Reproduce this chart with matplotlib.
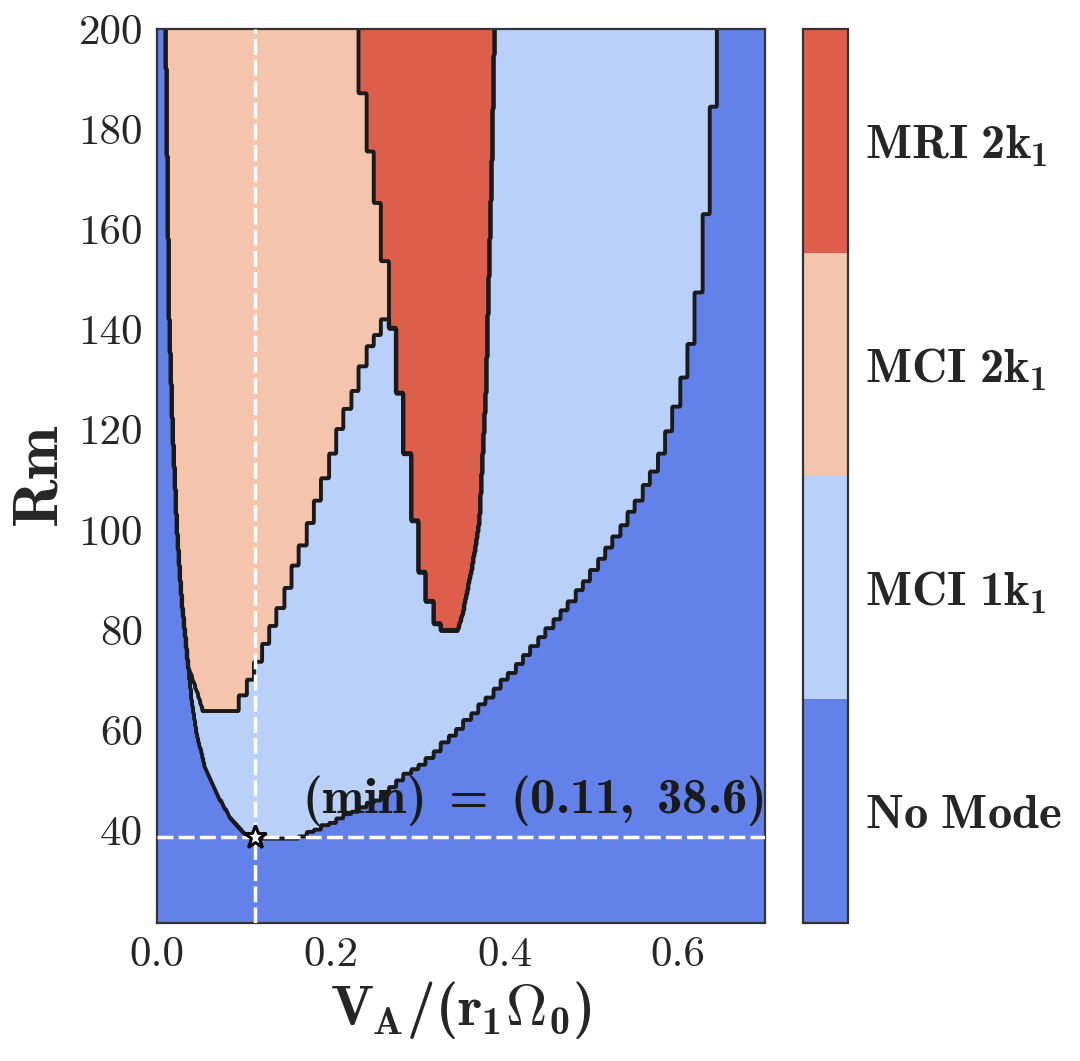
import numpy as np
import matplotlib
matplotlib.use("Agg")
import matplotlib.pyplot as plt

# ---------------- data ----------------
# parameter grid
va_grid = np.linspace(0.0, 0.7, 600)
rm_grid = np.linspace(21.5, 200.0, 400)

categories = ["No Mode", r"MCI 1k_1", r"MCI 2k_1", r"MRI 2k_1"]

# outer boundary (No Mode | any mode): left branch (Rm, V_A)
outer_left_rm = [38.5, 39.5, 42.5, 47.3, 52.5, 59.3, 65.9, 72.5, 79.3, 85.9, 100.0, 120.0, 142.0, 170.0, 200.0]
outer_left_va = [0.1126, 0.0989, 0.0839, 0.0686, 0.0552, 0.0456, 0.0399, 0.0360, 0.0322, 0.0284, 0.0230, 0.0180, 0.0140, 0.0120, 0.0100]
# outer boundary: right branch
outer_right_rm = [38.5, 39.9, 42.3, 46.5, 48.3, 52.5, 54.3, 58.5, 62.5, 70.5, 79.3, 83.3, 87.9, 92.9, 98.9, 105.5, 113.2, 121.9, 131.9, 141.9, 157.9, 175.9, 200.0]
outer_right_va = [0.1606, 0.1836, 0.2100, 0.2598, 0.2686, 0.2985, 0.3150, 0.3368, 0.3610, 0.4035, 0.4460, 0.4670, 0.4862, 0.5072, 0.5302, 0.5532, 0.5762, 0.5934, 0.6088, 0.6203, 0.6299, 0.6376, 0.6463]

# MCI 2k1 region
mci2_left_rm = [63.6, 67.9, 72.5, 79.3, 85.9, 100.0, 120.0, 142.0, 170.0, 200.0]
mci2_left_va = [0.0532, 0.0456, 0.0360, 0.0322, 0.0284, 0.0230, 0.0180, 0.0140, 0.0120, 0.0100]
mci2_right_rm = [63.6, 65.9, 69.9, 77.9, 85.9, 99.0, 113.3, 121.9, 126.7, 131.9, 137.6, 139.9, 143.0, 147.3, 157.9, 166.6, 175.9, 185.9, 198.0, 200.0]
mci2_right_va = [0.0897, 0.0954, 0.1069, 0.1261, 0.1452, 0.1720, 0.1989, 0.2141, 0.2256, 0.2353, 0.2468, 0.2594, 0.2640, 0.2659, 0.2601, 0.2525, 0.2448, 0.2371, 0.2310, 0.2295]

# MRI 2k1 region
mri2_left_rm = [80.0, 85.9, 93.3, 107.9, 119.9, 129.9, 141.9, 147.3, 157.9, 166.6, 175.9, 185.9, 198.0, 200.0]
mri2_left_va = [0.3253, 0.3138, 0.3023, 0.2928, 0.2851, 0.2774, 0.2698, 0.2659, 0.2601, 0.2525, 0.2448, 0.2371, 0.2310, 0.2295]
mri2_right_rm = [80.0, 83.3, 93.3, 101.9, 115.3, 128.7, 141.9, 175.3, 200.0]
mri2_right_va = [0.3463, 0.3521, 0.3636, 0.3713, 0.3751, 0.3790, 0.3808, 0.3859, 0.3885]

# minimum of the critical curve
min_va = 0.113
min_rm = 38.6

x_ticks = [0.0, 0.2, 0.4, 0.6]
y_ticks = [40, 60, 80, 100, 120, 140, 160, 180, 200]

# ---------------- style ----------------
plt.rcParams.update({
    "font.family": "cmr10",
    "mathtext.fontset": "custom",
    "mathtext.rm": "cmb10",
    "mathtext.it": "cmb10",
    "mathtext.bf": "cmb10",
    "mathtext.sf": "cmb10",
    "mathtext.fallback": "cm",
    "axes.formatter.use_mathtext": False,
    "text.color": "0.15",
    "axes.labelcolor": "0.15",
    "xtick.color": "0.15",
    "ytick.color": "0.15",
})

cmap = plt.get_cmap("coolwarm")
colors = [cmap(v) for v in [0.125, 0.375, 0.625, 0.875]]

# resolution of the solver scan in V_A (gives the staircase look)
STEP = 0.0086

# ---------------- build category map ----------------
VA, RM = np.meshgrid(va_grid, rm_grid)


def edge(rm_pts, va_pts, stair):
    v = np.interp(rm_grid, rm_pts, va_pts)
    if stair:
        v = np.round(v / STEP) * STEP
    return v[:, None]


def band(rm_l, va_l, stair_l, rm_r, va_r, stair_r):
    lo = edge(rm_l, va_l, stair_l)
    hi = edge(rm_r, va_r, stair_r)
    rmin = max(rm_l[0], rm_r[0])
    return (VA > lo) & (VA < hi) & (RM >= rmin)


Z = np.zeros(VA.shape, dtype=float)
Z[band(outer_left_rm, outer_left_va, False, outer_right_rm, outer_right_va, True)] = 1
Z[band(mci2_left_rm, mci2_left_va, False, mci2_right_rm, mci2_right_va, True)] = 2
Z[band(mri2_left_rm, mri2_left_va, True, mri2_right_rm, mri2_right_va, False)] = 3

# ---------------- figure ----------------
fig = plt.figure(figsize=(10.8, 10.61), dpi=100)
ax = fig.add_axes([0.1454, 0.1305, 0.5630, 0.8417])
cax = fig.add_axes([0.7435, 0.1305, 0.0417, 0.8417])

cf = ax.contourf(va_grid, rm_grid, Z, levels=[-0.5, 0.5, 1.5, 2.5, 3.5], colors=colors)
ax.contour(va_grid, rm_grid, Z, levels=[0.5, 1.5, 2.5], colors="#1a1a1a", linewidths=2.8)

ax.axvline(min_va, color="white", lw=2.5, dashes=(4.6, 1.5), zorder=5)
ax.axhline(min_rm, color="white", lw=2.5, dashes=(4.6, 1.5), zorder=5)
ax.plot([min_va], [min_rm], marker="*", ms=17, mfc="white", mec="black", mew=2.2, zorder=6)

ax.text(0.997, 0.123, r"$(min)\ =\ (%.2f,\ %.1f)$" % (min_va, min_rm),
        transform=ax.transAxes, ha="right", va="baseline", fontsize=36.5, color="0.1", zorder=7)

ax.set_xlim(0.0, 0.7)
ax.set_ylim(21.5, 200.0)
ax.set_xticks(x_ticks)
ax.set_yticks(y_ticks)
ax.set_xticklabels(["%.1f" % t for t in x_ticks])
ax.set_yticklabels(["%d" % t for t in y_ticks])
ax.tick_params(length=0, labelsize=31, pad=10)
ax.set_xlabel(r"$V_A/(r_1\Omega_0)$", fontsize=41, labelpad=4)
ax.set_ylabel(r"$Rm$", fontsize=46, labelpad=6)
for s in ax.spines.values():
    s.set_color("0.2")
    s.set_linewidth(1.6)

cb = fig.colorbar(cf, cax=cax, ticks=[0, 1, 2, 3])
cb.ax.set_yticklabels([r"$%s$" % c.replace(" ", r"\ ") for c in categories])
cb.ax.tick_params(length=0, labelsize=35, pad=12)
cb.outline.set_edgecolor("0.2")
cb.outline.set_linewidth(1.6)

fig.savefig("out.png", dpi=100)
